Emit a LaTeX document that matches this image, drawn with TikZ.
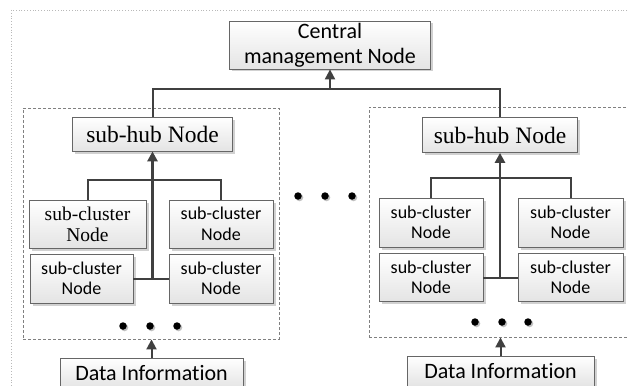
\documentclass[tikz,border=0pt]{standalone}
\usepackage{fontspec}
\newfontfamily\calfont{Carlito}[Ligatures=NoCommon]
\newfontfamily\timesfont{Liberation Serif}
\usetikzlibrary{arrows.meta,shadows}
\definecolor{linegray}{HTML}{404040}
\definecolor{boxedge}{HTML}{666666}
\definecolor{shadegray}{HTML}{E4E4E4}
\definecolor{groupedge}{HTML}{808080}
\tikzset{
  box/.style={draw=boxedge, line width=0.8pt, top color=white, bottom color=shadegray,
    drop shadow={shadow xshift=2.5pt, shadow yshift=-2.5pt, fill=black!18, opacity=1},
    inner sep=0pt, align=center},
  bigtext/.style={font=\calfont\fontsize{22}{25}\selectfont},
  hubtext/.style={font=\timesfont\fontsize{23.5}{28}\selectfont},
  clustext/.style={font=\calfont\fontsize{18}{20.5}\selectfont},
  clusserif/.style={font=\timesfont\fontsize{19.5}{21}\selectfont},
  group/.style={draw=groupedge, line width=0.9pt, dash pattern=on 3pt off 2pt, inner sep=0pt},
  link/.style={draw=linegray, line width=2pt},
  bus/.style={draw=linegray, line width=2.6pt},
  tip/.style={-{Triangle[length=10pt,width=10pt]}},
  dot/.style={circle, fill=black, inner sep=0pt, minimum size=7.5pt,
    drop shadow={shadow xshift=1.5pt, shadow yshift=-1.5pt, fill=black!25, opacity=1}},
}
\begin{document}
\begin{tikzpicture}[x=1pt, y=-1pt]
  \useasboundingbox (0,0) rectangle (628,385);
  \fill[white] (0,0) rectangle (628,385);
  \clip (0,0) rectangle (628,385);

  % page frame
  \draw[gray!55, line width=0.8pt, dotted] (11,10) rectangle (650,400);

  % cluster groups
  \node[group, minimum width=256pt, minimum height=231pt] (lgroup) at (151,223.5) {};
  \node[group, minimum width=281pt, minimum height=230pt] (rgroup) at (509.5,222) {};

  % central management node
  \node[box, bigtext, minimum width=201pt, minimum height=48pt] (central) at (330,45)
    {Central\\management Node};

  % hub nodes
  \node[box, hubtext, minimum width=160pt, minimum height=34pt] (lhub) at (152.5,134) {sub-hub Node};
  \node[box, hubtext, minimum width=155pt, minimum height=35pt] (rhub) at (500,135) {sub-hub Node};

  % left cluster nodes
  \node[box, clusserif, minimum width=117pt, minimum height=48pt] (ltl) at (87.5,224) {sub-cluster\\Node};
  \node[box, clustext, minimum width=104pt, minimum height=48pt] (ltr) at (221,224) {sub-cluster\\Node};
  \node[box, clustext, minimum width=103pt, minimum height=49pt] (lbl) at (81.5,278.5) {sub-cluster\\Node};
  \node[box, clustext, minimum width=104pt, minimum height=49pt] (lbr) at (221,278.5) {sub-cluster\\Node};

  % right cluster nodes
  \node[box, clustext, minimum width=104pt, minimum height=49pt] (rtl) at (431,222.5) {sub-cluster\\Node};
  \node[box, clustext, minimum width=105pt, minimum height=49pt] (rtr) at (570.5,222.5) {sub-cluster\\Node};
  \node[box, clustext, minimum width=104pt, minimum height=48pt] (rbl) at (431,277.5) {sub-cluster\\Node};
  \node[box, clustext, minimum width=105pt, minimum height=48pt] (rbr) at (570.5,277.5) {sub-cluster\\Node};

  % data sources
  \node[box, bigtext, minimum width=183pt, minimum height=30pt] (ldata) at (151.5,373) {Data Information};
  \node[box, bigtext, minimum width=187pt, minimum height=30pt] (rdata) at (500.5,371) {Data Information};

  % hubs to central node
  \coordinate (bar) at (330,89);
  \draw[link] (lhub.north) |- (bar) -| (rhub.north);
  \draw[link, tip, fill=linegray] (bar) -- (central.south);

  % left cluster wiring
  \draw[link] (ltl.north) -- ++(0,-20) -| (ltr.north);
  \draw[link] (lbl.east) -- (lbr.west);
  \draw[bus, tip, fill=linegray] (lbl.east -| lhub.south) -- (lhub.south);

  % right cluster wiring
  \draw[link] (rtl.north) -- ++(0,-20) -| (rtr.north);
  \draw[link] (rbl.east) -- (rbr.west);
  \draw[bus, tip, fill=linegray] (rbl.east -| rhub.south) -- (rhub.south);

  % data into groups
  \draw[link, tip, fill=linegray] (ldata.north) -- (ldata.north |- lgroup.south);
  \draw[link, tip, fill=linegray] (rdata.north) -- (rdata.north |- rgroup.south);

  % ellipses
  \node[dot] (ld1) at (123,326) {};
  \node[dot] (ld2) at (150,326) {};
  \node[dot] (ld3) at (177,326) {};
  \node[dot] (rd1) at (475,322) {};
  \node[dot] (rd2) at (502,322) {};
  \node[dot] (rd3) at (528,322) {};
  \node[dot] (md1) at (298,196) {};
  \node[dot] (md2) at (325,196) {};
  \node[dot] (md3) at (352,196) {};
\end{tikzpicture}
\end{document}
